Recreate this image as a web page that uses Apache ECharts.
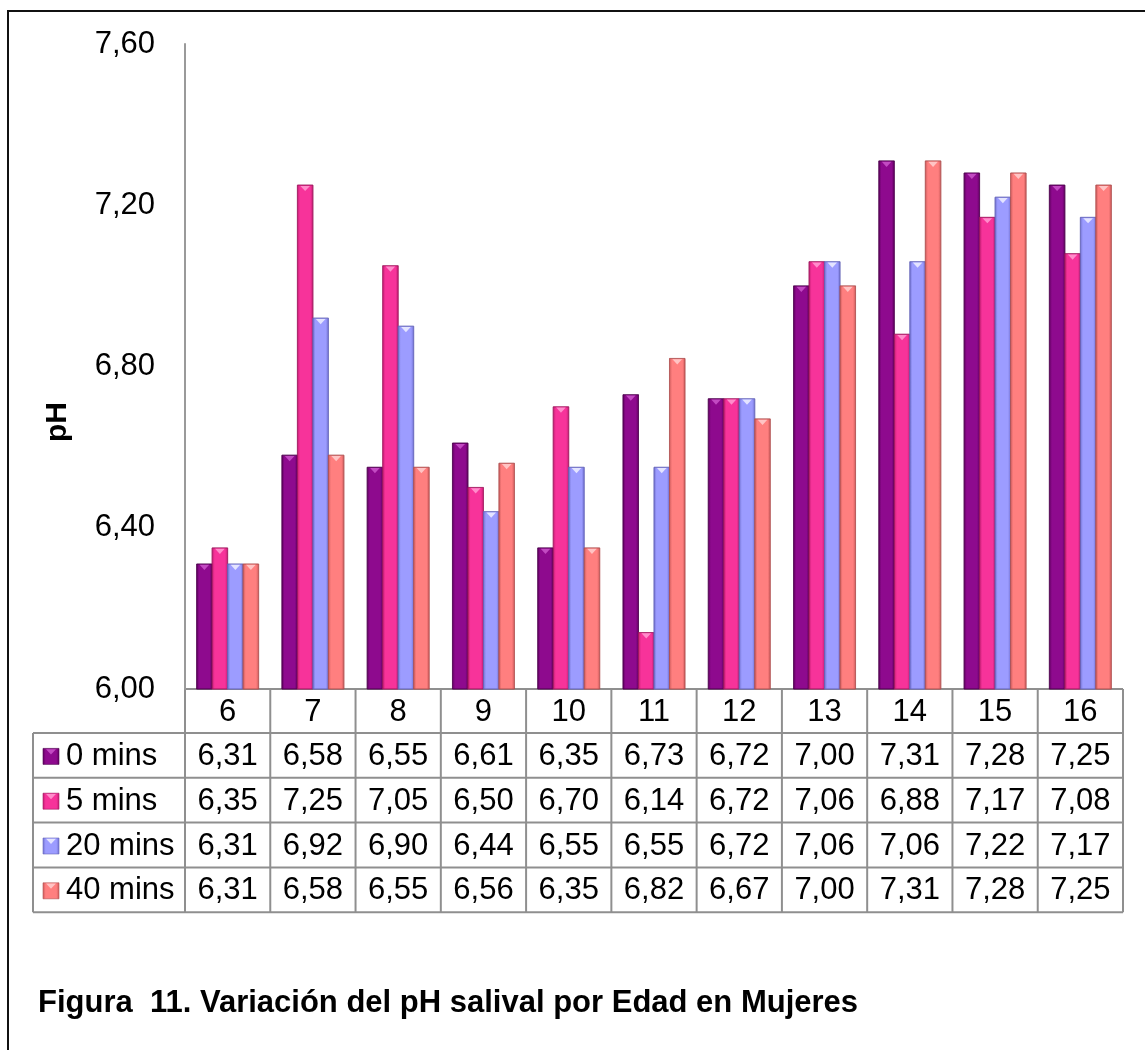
<!DOCTYPE html>
<html>
<head>
<meta charset="utf-8">
<title>Variación del pH salival por Edad en Mujeres</title>
<script src="https://cdn.jsdelivr.net/npm/echarts@6/dist/echarts.min.js"></script>
<style>
  html, body { margin: 0; padding: 0; background: #fff; }
  #chart { width: 1145px; height: 1050px; }
</style>
</head>
<body>
<div id="chart"></div>
<script>
// Ages (years) shown as the category axis / table header
const edades = ['6', '7', '8', '9', '10', '11', '12', '13', '14', '15', '16'];

// Salivary pH per age, at each time after the stimulus
const ph0min  = [6.31, 6.58, 6.55, 6.61, 6.35, 6.73, 6.72, 7.00, 7.31, 7.28, 7.25];
const ph5min  = [6.35, 7.25, 7.05, 6.50, 6.70, 6.14, 6.72, 7.06, 6.88, 7.17, 7.08];
const ph20min = [6.31, 6.92, 6.90, 6.44, 6.55, 6.55, 6.72, 7.06, 7.06, 7.22, 7.17];
const ph40min = [6.31, 6.58, 6.55, 6.56, 6.35, 6.82, 6.67, 7.00, 7.31, 7.28, 7.25];

const seriesNames = ['0 mins', '5 mins', '20 mins', '40 mins'];
const seriesData = [ph0min, ph5min, ph20min, ph40min];

// Value-axis ticks
const yMin = 6.0, yMax = 7.6, yStep = 0.4;

const titulo = 'Figura  11. Variación del pH salival por Edad en Mujeres';
const ejeY = 'pH';

// Bevelled bar palette: face, edge, top highlight
const palette = [
  { face: '#8E0A8E', edge: '#5E005E', hi: '#C24AC2', line: '#4E004E' },
  { face: '#F7339A', edge: '#C21C72', hi: '#FF8CCB', line: '#A0185E' },
  { face: '#9C9CFF', edge: '#7070D0', hi: '#E4E4FF', line: '#6464B8' },
  { face: '#FF7F7F', edge: '#CC5A5A', hi: '#FFC4C4', line: '#B05050' }
];

const FONT = '"Liberation Sans", Arial, sans-serif';
const FS = 31;
const fmt = v => v.toFixed(2).replace('.', ',');

function faceGradient(p) {
  return new echarts.graphic.LinearGradient(0, 0, 1, 0, [
    { offset: 0, color: p.edge },
    { offset: 0.18, color: p.face },
    { offset: 0.82, color: p.face },
    { offset: 1, color: p.edge }
  ]);
}

// One bevelled column: body rect plus a small downward-pointing highlight at the top
function bevelBar(x, yTop, w, h, p) {
  const tw = w * 0.62, th = Math.min(6, h);
  return {
    type: 'group',
    children: [
      {
        type: 'rect',
        shape: { x: x, y: yTop, width: w, height: h },
        style: { fill: faceGradient(p), stroke: p.line, lineWidth: 0.6 }
      },
      {
        type: 'polygon',
        shape: { points: [[x + (w - tw) / 2, yTop + 0.8], [x + (w + tw) / 2, yTop + 0.8], [x + w / 2, yTop + th]] },
        style: { fill: p.hi }
      }
    ]
  };
}

const GROUP_FRACTION = 0.727;

function makeSeries(k) {
  return {
    type: 'custom',
    name: seriesNames[k],
    data: seriesData[k].map((v, i) => [i, v]),
    renderItem: function (params, api) {
      const i = api.value(0), v = api.value(1);
      const top = api.coord([i, v]);
      const base = api.coord([i, yMin]);
      const band = api.size([1, 0])[0];
      const bw = band * GROUP_FRACTION / 4;
      const x = top[0] - band * GROUP_FRACTION / 2 + k * bw;
      return bevelBar(x, top[1], bw, base[1] - top[1], palette[k]);
    }
  };
}

const chart = echarts.init(document.getElementById('chart'), null, { renderer: 'canvas' });

chart.setOption({
  animation: false,
  backgroundColor: '#ffffff',
  grid: { left: 185, right: 22, top: 44, bottom: 361, containLabel: false },
  xAxis: {
    type: 'category',
    data: edades,
    boundaryGap: true,
    axisLine: { show: false },
    axisTick: { show: false },
    axisLabel: { show: false }
  },
  yAxis: {
    type: 'value',
    min: yMin,
    max: yMax,
    interval: yStep,
    axisLine: { show: true, lineStyle: { color: '#9a9a9a', width: 2 } },
    axisTick: { show: false },
    splitLine: { show: false },
    axisLabel: {
      margin: 30,
      fontFamily: FONT,
      fontSize: FS,
      color: '#000',
      formatter: v => fmt(v)
    }
  },
  series: [0, 1, 2, 3].map(makeSeries)
});

// Data table beneath the plot, laid out from the axis scales
function buildTable() {
  const els = [];
  const baseY = chart.convertToPixel({ yAxisIndex: 0 }, yMin);
  const c0 = chart.convertToPixel({ xAxisIndex: 0 }, 0);
  const c1 = chart.convertToPixel({ xAxisIndex: 0 }, 1);
  const band = c1 - c0;
  const leftX = c0 - band / 2;
  const rightX = leftX + band * edades.length;
  const legendX = 33;
  const headerH = 44, rowH = 44.8;
  const rowsTop = baseY + headerH;
  const bottomY = rowsTop + rowH * seriesNames.length;
  const gridStroke = { stroke: '#8f8f8f', lineWidth: 2 };
  const cellFont = { fontFamily: FONT, fontSize: FS, fill: '#000', verticalAlign: 'middle' };

  // horizontal rules
  els.push({ type: 'line', shape: { x1: leftX, y1: baseY, x2: rightX, y2: baseY }, style: gridStroke });
  for (let r = 0; r <= seriesNames.length; r++) {
    const y = rowsTop + r * rowH;
    els.push({ type: 'line', shape: { x1: legendX, y1: y, x2: rightX, y2: y }, style: gridStroke });
  }
  // vertical rules
  els.push({ type: 'line', shape: { x1: legendX, y1: rowsTop, x2: legendX, y2: bottomY }, style: gridStroke });
  for (let c = 0; c <= edades.length; c++) {
    const x = leftX + c * band;
    els.push({ type: 'line', shape: { x1: x, y1: baseY, x2: x, y2: bottomY }, style: gridStroke });
  }

  // header: ages
  edades.forEach((e, i) => {
    const cx = chart.convertToPixel({ xAxisIndex: 0 }, i);
    els.push({
      type: 'text',
      style: Object.assign({ x: cx, y: baseY + headerH / 2 + 1, text: e, align: 'center' }, cellFont)
    });
  });

  // body rows: legend key + values
  seriesNames.forEach((name, r) => {
    const cy = rowsTop + r * rowH + rowH / 2 + 1;
    const ks = 16;
    els.push(bevelBar(43, cy - ks / 2, ks, ks, palette[r]));
    els.push({
      type: 'text',
      style: Object.assign({ x: 66, y: cy, text: name, align: 'left' }, cellFont)
    });
    seriesData[r].forEach((v, i) => {
      const cx = chart.convertToPixel({ xAxisIndex: 0 }, i);
      els.push({
        type: 'text',
        style: Object.assign({ x: cx, y: cy, text: fmt(v), align: 'center' }, cellFont)
      });
    });
  });

  // value-axis title
  els.push({
    type: 'text',
    x: 58, y: 422, rotation: Math.PI / 2,
    style: { x: 0, y: 0, text: ejeY, fontFamily: FONT, fontSize: 30, fontWeight: 'bold', fill: '#000', align: 'center', verticalAlign: 'middle' }
  });

  // outer frame (top and left edges inside the page)
  els.push({
    type: 'polyline',
    shape: { points: [[8, 1052], [8, 11], [1147, 11]] },
    style: { stroke: '#111', lineWidth: 2, fill: null }
  });

  // caption
  els.push({
    type: 'text',
    style: { x: 38, y: 1003, text: titulo, fontFamily: FONT, fontSize: 31, fontWeight: 'bold', fill: '#000', align: 'left', verticalAlign: 'middle' }
  });

  return els;
}

chart.setOption({ graphic: { elements: buildTable() } });
</script>
</body>
</html>
